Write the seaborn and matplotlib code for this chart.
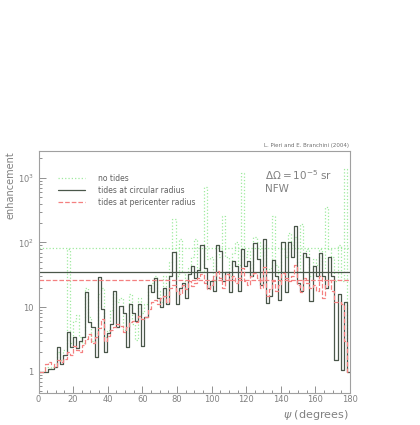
import numpy as np
import pandas as pd
import matplotlib
matplotlib.use("Agg")
import matplotlib.pyplot as plt
import matplotlib.ticker as mticker
import seaborn as sns

# 100 bins of 1.8 degrees between 0 and 180
n_bins = 100
bin_centers = (np.arange(n_bins) + 0.5) * 1.8

no_tides = [
    1.0, 1.0, 1.2, 1.1, 1.2, 1.3, 2.0, 1.5, 2.2, 80,
    2.8, 6, 7.5, 3.5, 2.8, 20, 7, 3, 4, 16,
    20, 3.5, 4.5, 9, 16, 12, 14, 4.5, 4, 16,
    5.5, 3.1, 14, 8, 11, 20, 24, 30, 18, 12,
    30, 15, 50, 228, 30, 112, 35, 20, 40, 60,
    112, 40, 35, 710, 55, 60, 25, 90, 60, 255,
    60, 30, 70, 100, 45, 1200, 60, 75, 40, 120,
    100, 55, 90, 35, 40, 255, 45, 25, 80, 60,
    140, 90, 120, 35, 190, 60, 80, 30, 55, 45,
    80, 40, 350, 80, 60, 25, 90, 25, 1350, 1.0,
]
tides_circular = [
    1.0, 1.0, 1.0, 1.1, 1.1, 1.2, 2.4, 1.3, 1.8, 4.1,
    2.4, 3.4, 2.3, 3.0, 3.4, 17, 5.8, 5.0, 1.7, 29,
    9.5, 2.0, 4.0, 5.4, 17.5, 5.0, 10.5, 8, 2.4, 11,
    8, 6, 11, 2.5, 7, 22, 17, 28, 14, 10,
    20, 11, 30, 71, 11, 20, 24, 14, 33, 43,
    28, 38, 92, 40, 20, 25, 18, 92, 75, 25,
    35, 17, 52, 43, 18, 80, 43, 52, 30, 97,
    56, 22, 114, 11.7, 15, 54, 30, 13, 100, 17,
    100, 60, 183, 24, 18, 70, 60, 12.5, 44, 30,
    70, 30, 20, 60, 30, 1.5, 16, 1.05, 12, 1.0,
]
tides_pericenter = [
    1.0, 1.0, 1.3, 1.4, 1.3, 1.2, 1.5, 1.4, 1.6, 2.0,
    1.8, 2.5, 2.2, 2.0, 2.6, 3.2, 3.8, 2.8, 3.5, 4.8,
    6.5, 3.0, 3.6, 4.5, 5.0, 5.5, 5.2, 4.2, 5.0, 5.8,
    6.2, 5.8, 7.2, 6.5, 7.0, 9.5, 12, 13, 11, 14,
    15, 12, 20, 22, 18, 16, 22, 19, 25, 21,
    24, 28, 32, 24, 19, 22, 30, 36, 28, 20,
    33, 26, 30, 24, 28, 40, 25, 22, 30, 34,
    28, 20, 42, 15, 19, 25, 18, 22, 34, 28,
    25, 30, 45, 22, 17, 28, 24, 20, 22, 18,
    30, 14, 22, 26, 18, 12, 12, 11, 3, 1.0,
]

# average levels drawn across the whole range
mean_levels = [81, 35.5, 26.7]

series_labels = ["no tides", "tides at circular radius", "tides at pericenter radius"]
series_colors = ["#9eea9e", "#4a574a", "#f48080"]
series_styles = [":", "-", "--"]

GREY = "#808080"

fig = plt.figure(figsize=(4.2, 4.25), dpi=100)
ax = fig.add_axes([0.0917, 0.0753, 0.7416, 0.5694])
sns.set_style("white")

for vals, lab, col, ls, lvl in zip([no_tides, tides_circular, tides_pericenter],
                                   series_labels, series_colors, series_styles, mean_levels):
    df = pd.DataFrame({"psi": bin_centers, "w": vals})
    sns.histplot(data=df, x="psi", weights="w", bins=n_bins, binrange=(0, 180),
                 element="step", fill=False, color=col, linestyle=ls,
                 linewidth=0.9, ax=ax)
    ax.axhline(lvl, color=col, linestyle=ls, linewidth=0.9)

ax.set_yscale("log")
ax.set_xlim(0, 180)
ax.set_ylim(0.47, 2600)

ax.xaxis.set_major_locator(mticker.MultipleLocator(20))
ax.xaxis.set_minor_locator(mticker.MultipleLocator(5))
ax.yaxis.set_major_locator(mticker.FixedLocator([1, 10, 100, 1000]))
ax.yaxis.set_major_formatter(mticker.FixedFormatter(["1", "10", r"10$^2$", r"10$^3$"]))
ax.yaxis.set_minor_locator(mticker.LogLocator(base=10, subs=np.arange(2, 10)))
ax.yaxis.set_minor_formatter(mticker.NullFormatter())
ax.tick_params(which="both", direction="in", colors=GREY, labelsize=6,
               top=False, right=False)
ax.tick_params(axis="x", which="major", pad=1.5)
ax.tick_params(which="major", length=5, width=0.6)
ax.tick_params(which="minor", length=2.5, width=0.6)
for sp in ax.spines.values():
    sp.set_color("#a0a0a0")
    sp.set_linewidth(0.8)

ax.set_xlabel("")
ax.set_ylabel("")
fig.text(0.83, 0.008, r"$\psi$ (degrees)", ha="right", va="bottom", color=GREY, fontsize=8)
fig.text(0.012, 0.645, "enhancement", rotation=90, ha="left", va="top", color=GREY, fontsize=7)
fig.text(0.83, 0.652, "L. Pieri and E. Branchini (2004)", ha="right", va="bottom",
         color="#707070", fontsize=4)
fig.text(0.63, 0.588, r"$\Delta\Omega$$=$10$^{-5}$ sr", ha="left", va="center",
         color=GREY, fontsize=7.5)
fig.text(0.63, 0.555, "NFW", ha="left", va="center", color=GREY, fontsize=7.5)

handles = [plt.Line2D([], [], color=c, linestyle=s, linewidth=0.9)
           for c, s in zip(series_colors, series_styles)]
leg = ax.legend(handles, series_labels, loc="upper left", bbox_to_anchor=(0.04, 0.935),
                frameon=False, fontsize=5.5, handlelength=3.6, handletextpad=1.6,
                labelspacing=0.4)
for t in leg.get_texts():
    t.set_color("#606060")

fig.savefig("out.png", dpi=100)
